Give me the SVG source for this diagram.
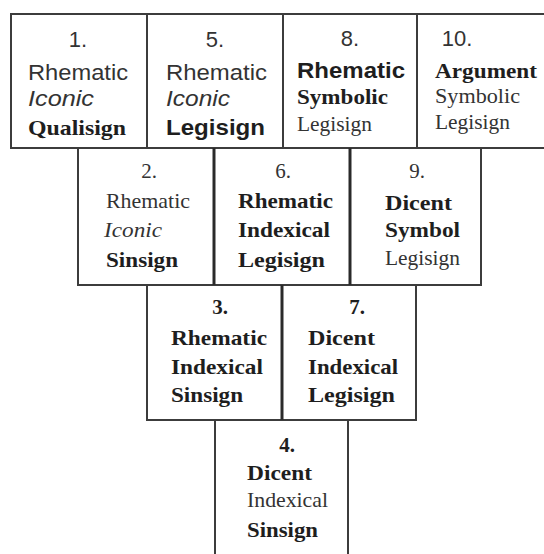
<svg xmlns="http://www.w3.org/2000/svg" width="544" height="554" viewBox="0 0 544 554">
  <style>
    .cell { fill: #ffffff; stroke: #3c3c3c; stroke-width: 2; }
    .div { stroke: #2a2a2a; stroke-width: 3; }
    text { fill: #1e1e1e; }
    .sans { font-family: "Liberation Sans", Arial, sans-serif; font-size: 22px; }
    .serif { font-family: "Liberation Serif", "Times New Roman", serif; font-size: 21px; }
    .num { text-anchor: middle; }
    .b { font-weight: bold; }
    .i { font-style: italic; }
    .lt { fill: #333333; }
  </style>
  <rect width="544" height="554" fill="#ffffff"/>

  <!-- Row 1 -->
  <g id="sign-1">
    <rect class="cell" x="11" y="14" width="136" height="134"/>
    <text class="sans num lt" x="78" y="47">1.</text>
    <text class="sans lt" x="28" y="80" textLength="100" lengthAdjust="spacingAndGlyphs">Rhematic</text>
    <text class="sans i lt" x="28" y="106" textLength="66" lengthAdjust="spacingAndGlyphs">Iconic</text>
    <text class="serif b" x="28" y="135" textLength="98" lengthAdjust="spacingAndGlyphs">Qualisign</text>
  </g>
  <g id="sign-5">
    <rect class="cell" x="147" y="14" width="136" height="134"/>
    <text class="sans num lt" x="215" y="47">5.</text>
    <text class="sans lt" x="166" y="80" textLength="101" lengthAdjust="spacingAndGlyphs">Rhematic</text>
    <text class="sans i lt" x="166" y="106" textLength="64" lengthAdjust="spacingAndGlyphs">Iconic</text>
    <text class="sans b" x="166" y="135" textLength="99" lengthAdjust="spacingAndGlyphs">Legisign</text>
  </g>
  <g id="sign-8">
    <rect class="cell" x="283" y="14" width="134" height="134"/>
    <text class="sans num lt" x="350" y="46">8.</text>
    <text class="sans b" x="297" y="78" textLength="108" lengthAdjust="spacingAndGlyphs">Rhematic</text>
    <text class="serif b" x="297" y="104" textLength="91" lengthAdjust="spacingAndGlyphs">Symbolic</text>
    <text class="serif lt" x="297" y="131" textLength="75" lengthAdjust="spacingAndGlyphs">Legisign</text>
  </g>
  <g id="sign-10">
    <rect class="cell" x="417" y="14" width="130" height="134"/>
    <text class="sans num lt" x="457" y="46">10.</text>
    <text class="serif b" x="435" y="78" textLength="102" lengthAdjust="spacingAndGlyphs">Argument</text>
    <text class="serif lt" x="435" y="103" textLength="85" lengthAdjust="spacingAndGlyphs">Symbolic</text>
    <text class="serif lt" x="435" y="129" textLength="75" lengthAdjust="spacingAndGlyphs">Legisign</text>
  </g>

  <!-- Row 2 -->
  <g id="sign-2">
    <rect class="cell" x="78" y="148" width="136" height="137"/>
    <text class="serif num lt" x="149" y="178">2.</text>
    <text class="serif lt" x="106" y="208" textLength="84" lengthAdjust="spacingAndGlyphs">Rhematic</text>
    <text class="serif i lt" x="104" y="237" textLength="58" lengthAdjust="spacingAndGlyphs">Iconic</text>
    <text class="serif b" x="106" y="267" textLength="72" lengthAdjust="spacingAndGlyphs">Sinsign</text>
  </g>
  <g id="sign-6">
    <rect class="cell" x="214" y="148" width="136" height="137"/>
    <text class="serif num lt" x="283" y="178">6.</text>
    <text class="serif b" x="238" y="208" textLength="95" lengthAdjust="spacingAndGlyphs">Rhematic</text>
    <text class="serif b" x="238" y="237" textLength="92" lengthAdjust="spacingAndGlyphs">Indexical</text>
    <text class="serif b" x="238" y="267" textLength="87" lengthAdjust="spacingAndGlyphs">Legisign</text>
  </g>
  <g id="sign-9">
    <rect class="cell" x="350" y="148" width="131" height="137"/>
    <text class="serif num lt" x="417" y="178">9.</text>
    <text class="serif b" x="385" y="210" textLength="67" lengthAdjust="spacingAndGlyphs">Dicent</text>
    <text class="serif b" x="385" y="237" textLength="75" lengthAdjust="spacingAndGlyphs">Symbol</text>
    <text class="serif lt" x="385" y="265" textLength="75" lengthAdjust="spacingAndGlyphs">Legisign</text>
  </g>

  <!-- Row 3 -->
  <g id="sign-3">
    <rect class="cell" x="147" y="285" width="135" height="135"/>
    <text class="serif num b" x="220" y="314">3.</text>
    <text class="serif b" x="171" y="345" textLength="96" lengthAdjust="spacingAndGlyphs">Rhematic</text>
    <text class="serif b" x="171" y="374" textLength="92" lengthAdjust="spacingAndGlyphs">Indexical</text>
    <text class="serif b" x="171" y="402" textLength="72" lengthAdjust="spacingAndGlyphs">Sinsign</text>
  </g>
  <g id="sign-7">
    <rect class="cell" x="282" y="285" width="134" height="135"/>
    <text class="serif num b" x="357" y="314">7.</text>
    <text class="serif b" x="308" y="345" textLength="67" lengthAdjust="spacingAndGlyphs">Dicent</text>
    <text class="serif b" x="308" y="374" textLength="90" lengthAdjust="spacingAndGlyphs">Indexical</text>
    <text class="serif b" x="308" y="402" textLength="87" lengthAdjust="spacingAndGlyphs">Legisign</text>
  </g>

  <!-- Row 4 -->
  <g id="sign-4">
    <rect class="cell" x="215" y="420" width="133" height="140"/>
    <text class="serif num b" x="287" y="452">4.</text>
    <text class="serif b" x="247" y="480" textLength="65" lengthAdjust="spacingAndGlyphs">Dicent</text>
    <text class="serif lt" x="247" y="507" textLength="81" lengthAdjust="spacingAndGlyphs">Indexical</text>
    <text class="serif b" x="247" y="537" textLength="71" lengthAdjust="spacingAndGlyphs">Sinsign</text>
  </g>

  <!-- heavier inner dividers -->
  <g id="dividers">
    <line class="div" x1="214" y1="148" x2="214" y2="285"/>
    <line class="div" x1="350" y1="148" x2="350" y2="285"/>
    <line class="div" x1="282" y1="285" x2="282" y2="420"/>
  </g>
</svg>
